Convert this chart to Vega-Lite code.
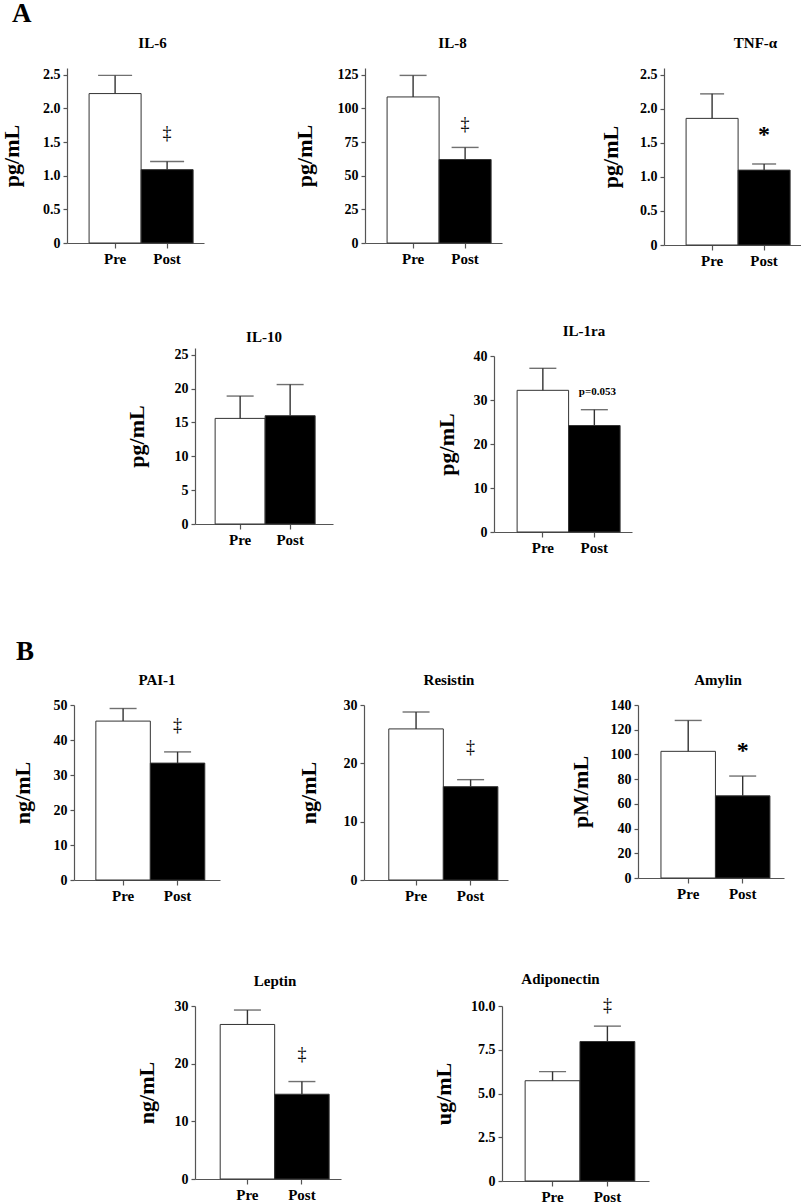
{
"$schema": "https://vega.github.io/schema/vega-lite/v6.json",
"background": "white",
"padding": 0,
"datasets": {"d": [
{"panel":"IL-6","cond":"Pre","value":2.22,"upper":2.49},
{"panel":"IL-6","cond":"Post","value":1.09,"upper":1.21,"ann":"‡","annY":1.62},
{"panel":"IL-8","cond":"Pre","value":108.5,"upper":124.5},
{"panel":"IL-8","cond":"Post","value":62,"upper":71,"ann":"‡","annY":88},
{"panel":"TNF-α","cond":"Pre","value":1.86,"upper":2.22},
{"panel":"TNF-α","cond":"Post","value":1.10,"upper":1.19,"ann":"*","annY":1.62},
{"panel":"IL-10","cond":"Pre","value":15.6,"upper":18.9},
{"panel":"IL-10","cond":"Post","value":16.0,"upper":20.6},
{"panel":"IL-1ra","cond":"Pre","value":32.2,"upper":37.2},
{"panel":"IL-1ra","cond":"Post","value":24.2,"upper":27.8,"ann":"p=0.053","annY":31.9},
{"panel":"PAI-1","cond":"Pre","value":45.4,"upper":49.0},
{"panel":"PAI-1","cond":"Post","value":33.4,"upper":36.6,"ann":"‡","annY":44},
{"panel":"Resistin","cond":"Pre","value":25.9,"upper":28.8},
{"panel":"Resistin","cond":"Post","value":16.0,"upper":17.2,"ann":"‡","annY":22.6},
{"panel":"Amylin","cond":"Pre","value":102.5,"upper":127.5},
{"panel":"Amylin","cond":"Post","value":66.5,"upper":82.5,"ann":"*","annY":103},
{"panel":"Leptin","cond":"Pre","value":26.8,"upper":29.3},
{"panel":"Leptin","cond":"Post","value":14.7,"upper":16.9,"ann":"‡","annY":21.5},
{"panel":"Adiponectin","cond":"Pre","value":5.73,"upper":6.25},
{"panel":"Adiponectin","cond":"Post","value":7.97,"upper":8.85,"ann":"‡","annY":10.0}
]},
"data": {"name": "d"},
"config": {
  "view": {"stroke": null},
  "font": "Liberation Serif",
  "axis": {"domainColor": "#555", "tickColor": "#555", "domainWidth": 1.2, "tickWidth": 1.2, "grid": false, "labelOverlap": false,
           "labelFont": "Liberation Serif", "labelFontWeight": "bold", "labelColor": "#000",
           "titleFont": "Liberation Serif", "titleFontWeight": "bold", "titleColor": "#000"},
  "axisX": {"labelAngle": 0, "labelFontSize": 15, "tickSize": 5, "labelPadding": 3, "title": null},
  "axisY": {"labelFontSize": 14, "tickSize": 4, "labelPadding": 3, "titleFontSize": 22, "titlePadding": 15},
  "title": {"font": "Liberation Serif", "fontSize": 15, "fontWeight": "bold", "color": "#000", "anchor": "middle", "offset": 10},
  "bar": {"stroke": "#333", "strokeWidth": 1},
  "rule": {"color": "#333", "strokeWidth": 1.4},
  "tick": {"color": "#333", "thickness": 1.4, "size": 27},
  "text": {"font": "Liberation Serif", "color": "#000", "baseline": "middle"}
},
"spacing": 0,
"vconcat": [
  {"bounds": "flush", "spacing": 0, "hconcat": [
    {"width": 65, "height": 256, "title": {"text": "A", "anchor": "start", "fontSize": 27, "offset": 40, "dx": 10}, "data": {"values": [{}]}, "mark": {"type": "text", "text": ""}},
    {"title": {"text": "IL-6", "dx": 17, "offset": 17}, "width": 137, "height": 175,
     "transform": [{"filter": "datum.panel === 'IL-6'"}],
     "encoding": {"x": {"field": "cond", "type": "nominal", "sort": ["Pre", "Post"], "scale": {"paddingInner": 0, "paddingOuter": 0.317, "align": 0.67}}},
     "layer": [
       {"mark": "bar", "encoding": {"y": {"field": "value", "type": "quantitative", "scale": {"domain": [0, 2.5]}, "axis": {"title": "pg/mL", "titlePadding": 19, "tickCount": 20, "labelOverlap": false, "values": [0, 0.5, 1, 1.5, 2, 2.5], "labelExpr": "datum.value == 0 ? '0' : format(datum.value, '.1f')"}},
         "color": {"field": "cond", "type": "nominal", "scale": {"domain": ["Pre", "Post"], "range": ["#ffffff", "#000000"]}, "legend": null}}},
       {"mark": "rule", "encoding": {"y": {"field": "value", "type": "quantitative"}, "y2": {"field": "upper"}}},
       {"mark": {"type": "tick", "size": 34}, "encoding": {"y": {"field": "upper", "type": "quantitative"}}},
       {"transform": [{"filter": "datum.ann"}], "mark": {"type": "text", "fontSize": 18, "color": "#000"}, "encoding": {"y": {"field": "annY", "type": "quantitative"}, "text": {"field": "ann"}}}
     ]},
    {"width": 161, "height": 1, "data": {"values": [{}]}, "mark": {"type": "text", "text": ""}},
    {"title": {"text": "IL-8", "dx": 19, "offset": 17}, "width": 137, "height": 175,
     "transform": [{"filter": "datum.panel === 'IL-8'"}],
     "encoding": {"x": {"field": "cond", "type": "nominal", "sort": ["Pre", "Post"], "scale": {"paddingInner": 0, "paddingOuter": 0.317, "align": 0.67}}},
     "layer": [
       {"mark": "bar", "encoding": {"y": {"field": "value", "type": "quantitative", "scale": {"domain": [0, 125]}, "axis": {"title": "pg/mL", "titlePadding": 21, "tickCount": 20, "labelOverlap": false, "values": [0, 25, 50, 75, 100, 125]}},
         "color": {"field": "cond", "type": "nominal", "scale": {"domain": ["Pre", "Post"], "range": ["#ffffff", "#000000"]}, "legend": null}}},
       {"mark": "rule", "encoding": {"y": {"field": "value", "type": "quantitative"}, "y2": {"field": "upper"}}},
       {"mark": "tick", "encoding": {"y": {"field": "upper", "type": "quantitative"}}},
       {"transform": [{"filter": "datum.ann"}], "mark": {"type": "text", "fontSize": 18, "color": "#000"}, "encoding": {"y": {"field": "annY", "type": "quantitative"}, "text": {"field": "ann"}}}
     ]},
    {"width": 162, "height": 1, "data": {"values": [{}]}, "mark": {"type": "text", "text": ""}},
    {"title": {"text": "TNF-α", "dx": 23, "offset": 17}, "width": 137, "height": 177,
     "transform": [{"filter": "datum.panel === 'TNF-α'"}],
     "encoding": {"x": {"field": "cond", "type": "nominal", "sort": ["Pre", "Post"], "scale": {"paddingInner": 0, "paddingOuter": 0.317, "align": 0.67}}},
     "layer": [
       {"mark": "bar", "encoding": {"y": {"field": "value", "type": "quantitative", "scale": {"domain": [0, 2.5]}, "axis": {"title": "pg/mL", "titlePadding": 17, "tickCount": 20, "labelOverlap": false, "values": [0, 0.5, 1, 1.5, 2, 2.5], "labelExpr": "datum.value == 0 ? '0' : format(datum.value, '.1f')"}},
         "color": {"field": "cond", "type": "nominal", "scale": {"domain": ["Pre", "Post"], "range": ["#ffffff", "#000000"]}, "legend": null}}},
       {"mark": "rule", "encoding": {"y": {"field": "value", "type": "quantitative"}, "y2": {"field": "upper"}}},
       {"mark": {"type": "tick", "size": 24}, "encoding": {"y": {"field": "upper", "type": "quantitative"}}},
       {"transform": [{"filter": "datum.ann"}], "mark": {"type": "text", "fontSize": 24, "fontWeight": "bold", "color": "#000"}, "encoding": {"y": {"field": "annY", "type": "quantitative"}, "text": {"field": "ann"}}}
     ]}
  ]},
  {"bounds": "flush", "spacing": 0, "hconcat": [
    {"width": 193, "height": 290, "data": {"values": [{}]}, "mark": {"type": "text", "text": ""}},
    {"title": {"text": "IL-10", "dx": 0, "offset": 3}, "width": 138, "height": 176,
     "transform": [{"filter": "datum.panel === 'IL-10'"}],
     "encoding": {"x": {"field": "cond", "type": "nominal", "sort": ["Pre", "Post"], "scale": {"paddingInner": 0, "paddingOuter": 0.38, "align": 0.53}}},
     "layer": [
       {"mark": "bar", "encoding": {"y": {"field": "value", "type": "quantitative", "scale": {"domain": [0, 25]}, "axis": {"title": "pg/mL", "titlePadding": 26, "tickCount": 20, "labelOverlap": false, "values": [0, 5, 10, 15, 20, 25]}},
         "color": {"field": "cond", "type": "nominal", "scale": {"domain": ["Pre", "Post"], "range": ["#ffffff", "#000000"]}, "legend": null}}},
       {"mark": "rule", "encoding": {"y": {"field": "value", "type": "quantitative"}, "y2": {"field": "upper"}}},
       {"mark": "tick", "encoding": {"y": {"field": "upper", "type": "quantitative"}}}
     ]},
    {"width": 161, "height": 1, "data": {"values": [{}]}, "mark": {"type": "text", "text": ""}},
    {"bounds": "flush", "spacing": 7, "vconcat": [
      {"width": 1, "height": 1, "data": {"values": [{}]}, "mark": {"type": "text", "text": ""}},
      {"title": {"text": "IL-1ra", "dx": 21}, "width": 138, "height": 176,
       "transform": [{"filter": "datum.panel === 'IL-1ra'"}],
       "encoding": {"x": {"field": "cond", "type": "nominal", "sort": ["Pre", "Post"], "scale": {"paddingInner": 0, "paddingOuter": 0.34, "align": 0.66}}},
       "layer": [
         {"mark": "bar", "encoding": {"y": {"field": "value", "type": "quantitative", "scale": {"domain": [0, 40]}, "axis": {"title": "pg/mL", "titlePadding": 15, "tickCount": 20, "labelOverlap": false, "values": [0, 10, 20, 30, 40]}},
           "color": {"field": "cond", "type": "nominal", "scale": {"domain": ["Pre", "Post"], "range": ["#ffffff", "#000000"]}, "legend": null}}},
         {"mark": "rule", "encoding": {"y": {"field": "value", "type": "quantitative"}, "y2": {"field": "upper"}}},
         {"mark": "tick", "encoding": {"y": {"field": "upper", "type": "quantitative"}}},
         {"transform": [{"filter": "datum.ann"}], "mark": {"type": "text", "fontSize": 11, "fontWeight": "bold", "dx": 3, "color": "#000"}, "encoding": {"y": {"field": "annY", "type": "quantitative"}, "text": {"field": "ann"}}}
       ]}
    ]}
  ]},
  {"bounds": "flush", "spacing": 0, "hconcat": [
    {"width": 72, "height": 267, "title": {"text": "B", "anchor": "start", "fontSize": 27, "offset": 39, "dx": 14}, "data": {"values": [{}]}, "mark": {"type": "text", "text": ""}},
    {"title": {"text": "PAI-1", "dx": 10}, "width": 146, "height": 175,
     "transform": [{"filter": "datum.panel === 'PAI-1'"}],
     "encoding": {"x": {"field": "cond", "type": "nominal", "sort": ["Pre", "Post"], "scale": {"paddingInner": 0, "paddingOuter": 0.34, "align": 0.59}}},
     "layer": [
       {"mark": "bar", "encoding": {"y": {"field": "value", "type": "quantitative", "scale": {"domain": [0, 50]}, "axis": {"title": "ng/mL", "titlePadding": 19, "tickCount": 20, "labelOverlap": false, "values": [0, 10, 20, 30, 40, 50]}},
         "color": {"field": "cond", "type": "nominal", "scale": {"domain": ["Pre", "Post"], "range": ["#ffffff", "#000000"]}, "legend": null}}},
       {"mark": "rule", "encoding": {"y": {"field": "value", "type": "quantitative"}, "y2": {"field": "upper"}}},
       {"mark": "tick", "encoding": {"y": {"field": "upper", "type": "quantitative"}}},
       {"transform": [{"filter": "datum.ann"}], "mark": {"type": "text", "fontSize": 18, "color": "#000"}, "encoding": {"y": {"field": "annY", "type": "quantitative"}, "text": {"field": "ann"}}}
     ]},
    {"width": 144, "height": 1, "data": {"values": [{}]}, "mark": {"type": "text", "text": ""}},
    {"title": {"text": "Resistin", "dx": 13}, "width": 144, "height": 175,
     "transform": [{"filter": "datum.panel === 'Resistin'"}],
     "encoding": {"x": {"field": "cond", "type": "nominal", "sort": ["Pre", "Post"], "scale": {"paddingInner": 0, "paddingOuter": 0.32, "align": 0.71}}},
     "layer": [
       {"mark": "bar", "encoding": {"y": {"field": "value", "type": "quantitative", "scale": {"domain": [0, 30]}, "axis": {"title": "ng/mL", "titlePadding": 23, "tickCount": 20, "labelOverlap": false, "values": [0, 10, 20, 30]}},
         "color": {"field": "cond", "type": "nominal", "scale": {"domain": ["Pre", "Post"], "range": ["#ffffff", "#000000"]}, "legend": null}}},
       {"mark": "rule", "encoding": {"y": {"field": "value", "type": "quantitative"}, "y2": {"field": "upper"}}},
       {"mark": "tick", "encoding": {"y": {"field": "upper", "type": "quantitative"}}},
       {"transform": [{"filter": "datum.ann"}], "mark": {"type": "text", "fontSize": 18, "color": "#000"}, "encoding": {"y": {"field": "annY", "type": "quantitative"}, "text": {"field": "ann"}}}
     ]},
    {"width": 130, "height": 1, "data": {"values": [{}]}, "mark": {"type": "text", "text": ""}},
    {"title": {"text": "Amylin", "dx": 7}, "width": 146, "height": 173,
     "transform": [{"filter": "datum.panel === 'Amylin'"}],
     "encoding": {"x": {"field": "cond", "type": "nominal", "sort": ["Pre", "Post"], "scale": {"paddingInner": 0, "paddingOuter": 0.34, "align": 0.62}}},
     "layer": [
       {"mark": "bar", "encoding": {"y": {"field": "value", "type": "quantitative", "scale": {"domain": [0, 140]}, "axis": {"title": "pM/mL", "titlePadding": 18, "tickCount": 20, "labelOverlap": false, "values": [0, 20, 40, 60, 80, 100, 120, 140]}},
         "color": {"field": "cond", "type": "nominal", "scale": {"domain": ["Pre", "Post"], "range": ["#ffffff", "#000000"]}, "legend": null}}},
       {"mark": "rule", "encoding": {"y": {"field": "value", "type": "quantitative"}, "y2": {"field": "upper"}}},
       {"mark": "tick", "encoding": {"y": {"field": "upper", "type": "quantitative"}}},
       {"transform": [{"filter": "datum.ann"}], "mark": {"type": "text", "fontSize": 24, "fontWeight": "bold", "color": "#000"}, "encoding": {"y": {"field": "annY", "type": "quantitative"}, "text": {"field": "ann"}}}
     ]}
  ]},
  {"bounds": "flush", "spacing": 0, "hconcat": [
    {"width": 193, "height": 1, "data": {"values": [{}]}, "mark": {"type": "text", "text": ""}},
    {"title": {"text": "Leptin", "dx": 7}, "width": 146, "height": 173,
     "transform": [{"filter": "datum.panel === 'Leptin'"}],
     "encoding": {"x": {"field": "cond", "type": "nominal", "sort": ["Pre", "Post"], "scale": {"paddingInner": 0, "paddingOuter": 0.34, "align": 0.68}}},
     "layer": [
       {"mark": "bar", "encoding": {"y": {"field": "value", "type": "quantitative", "scale": {"domain": [0, 30]}, "axis": {"title": "ng/mL", "titlePadding": 16, "tickCount": 20, "labelOverlap": false, "values": [0, 10, 20, 30]}},
         "color": {"field": "cond", "type": "nominal", "scale": {"domain": ["Pre", "Post"], "range": ["#ffffff", "#000000"]}, "legend": null}}},
       {"mark": "rule", "encoding": {"y": {"field": "value", "type": "quantitative"}, "y2": {"field": "upper"}}},
       {"mark": "tick", "encoding": {"y": {"field": "upper", "type": "quantitative"}}},
       {"transform": [{"filter": "datum.ann"}], "mark": {"type": "text", "fontSize": 18, "color": "#000"}, "encoding": {"y": {"field": "annY", "type": "quantitative"}, "text": {"field": "ann"}}}
     ]},
    {"width": 161, "height": 1, "data": {"values": [{}]}, "mark": {"type": "text", "text": ""}},
    {"title": {"text": "Adiponectin", "dx": -15}, "width": 147, "height": 175,
     "transform": [{"filter": "datum.panel === 'Adiponectin'"}],
     "encoding": {"x": {"field": "cond", "type": "nominal", "sort": ["Pre", "Post"], "scale": {"paddingInner": 0, "paddingOuter": 0.34, "align": 0.62}}},
     "layer": [
       {"mark": "bar", "encoding": {"y": {"field": "value", "type": "quantitative", "scale": {"domain": [0, 10]}, "axis": {"title": "ug/mL", "titlePadding": 15, "tickCount": 20, "labelOverlap": false, "values": [0, 2.5, 5, 7.5, 10], "labelExpr": "datum.value == 0 ? '0' : format(datum.value, '.1f')"}},
         "color": {"field": "cond", "type": "nominal", "scale": {"domain": ["Pre", "Post"], "range": ["#ffffff", "#000000"]}, "legend": null}}},
       {"mark": "rule", "encoding": {"y": {"field": "value", "type": "quantitative"}, "y2": {"field": "upper"}}},
       {"mark": "tick", "encoding": {"y": {"field": "upper", "type": "quantitative"}}},
       {"transform": [{"filter": "datum.ann"}], "mark": {"type": "text", "fontSize": 18, "clip": false, "color": "#000"}, "encoding": {"y": {"field": "annY", "type": "quantitative"}, "text": {"field": "ann"}}}
     ]}
  ]}
]
}
